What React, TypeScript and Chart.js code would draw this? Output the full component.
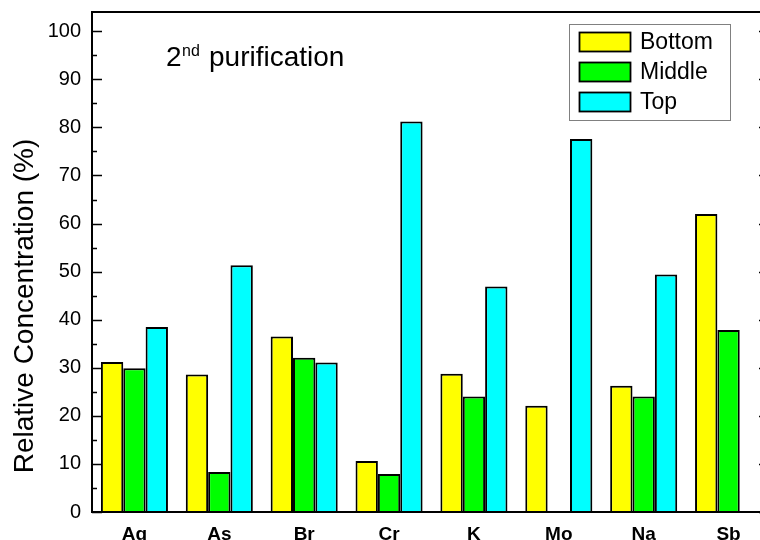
import React, { useEffect, useRef } from "react";
import { Chart, registerables } from "chart.js";

Chart.register(...registerables);

const categories = ["Ag", "As", "Br", "Cr", "K", "Mo", "Na", "Sb"];
const bottomValues = [31.2, 28.6, 36.5, 10.6, 28.75, 22.1, 26.25, 62.0];
const middleValues = [29.9, 8.3, 32.1, 7.9, 24.0, null, 24.0, 37.85];
const topValues = [38.5, 51.3, 31.1, 81.2, 46.9, 77.6, 49.4, null];
const yTicks = [0, 10, 20, 30, 40, 50, 60, 70, 80, 90, 100];
const yMinorTicks = [5, 15, 25, 35, 45, 55, 65, 75, 85, 95];
const seriesLabels = ["Bottom", "Middle", "Top"];
const seriesColors = ["#FFFF00", "#00FF00", "#00FFFF"];
const yTitle = "Relative Concentration (%)";

const FONT = "'Liberation Sans', Arial, sans-serif";

const decorPlugin = {
  id: "decor",
  afterDraw(chart: any) {
    const ctx = chart.ctx;
    const a = chart.chartArea;
    const y = chart.scales.y;
    ctx.save();
    // frame
    ctx.strokeStyle = "#000";
    ctx.lineWidth = 2;
    ctx.strokeRect(a.left, a.top, a.right - a.left, a.bottom - a.top);
    // ticks
    ctx.lineWidth = 1.5;
    ctx.beginPath();
    yTicks.forEach((v) => {
      const py = Math.round(y.getPixelForValue(v)) + 0.5;
      ctx.moveTo(a.left, py);
      ctx.lineTo(a.left + 10, py);
      ctx.moveTo(a.right, py);
      ctx.lineTo(a.right - 12, py);
    });
    yMinorTicks.forEach((v) => {
      const py = Math.round(y.getPixelForValue(v)) + 0.5;
      ctx.moveTo(a.left, py);
      ctx.lineTo(a.left + 5, py);
      ctx.moveTo(a.right, py);
      ctx.lineTo(a.right - 6, py);
    });
    ctx.stroke();

    // legend
    ctx.strokeStyle = "#808080";
    ctx.lineWidth = 1;
    ctx.strokeRect(569.5, 24.5, 161, 96);
    chart.data.datasets.forEach((ds: any, i: number) => {
      const top = 32 + i * 30;
      ctx.fillStyle = ds.backgroundColor;
      ctx.fillRect(579, top, 52, 20);
      ctx.strokeStyle = "#000";
      ctx.lineWidth = 1.8;
      ctx.strokeRect(579.5, top + 0.5, 51, 19);
      ctx.fillStyle = "#000";
      ctx.font = `23px ${FONT}`;
      ctx.textAlign = "left";
      ctx.textBaseline = "middle";
      ctx.fillText(ds.label, 640, top + 11);
    });

    // annotation title
    ctx.fillStyle = "#000";
    ctx.textAlign = "left";
    ctx.textBaseline = "alphabetic";
    ctx.font = `28px ${FONT}`;
    ctx.fillText("2", 166, 66);
    const w2 = ctx.measureText("2").width;
    ctx.font = `16px ${FONT}`;
    ctx.fillText("nd", 166 + w2 + 0.5, 56);
    ctx.font = `28px ${FONT}`;
    ctx.fillText("purification", 209, 66);

    // y title
    ctx.translate(33, 306);
    ctx.rotate(-Math.PI / 2);
    ctx.textAlign = "center";
    ctx.textBaseline = "alphabetic";
    ctx.font = `28px ${FONT}`;
    ctx.fillText(yTitle, 0, 0);
    ctx.restore();
  },
};

export default function App() {
  const ref = useRef<HTMLCanvasElement>(null);
  useEffect(() => {
    if (!ref.current) return;
    const data = [bottomValues, middleValues, topValues];
    const chart = new Chart(ref.current, {
      type: "bar",
      data: {
        labels: categories,
        datasets: seriesLabels.map((label, i) => ({
          label,
          data: data[i] as any,
          backgroundColor: seriesColors[i],
          borderColor: "#000",
          borderWidth: 2,
          borderSkipped: "bottom",
          categoryPercentage: 0.79,
          barPercentage: 1.0,
        })),
      },
      options: {
        responsive: false,
        animation: false,
        devicePixelRatio: 1,
        layout: { padding: { left: 0, right: 19, top: 12, bottom: 0 } },
        plugins: { legend: { display: false }, tooltip: { enabled: false } },
        scales: {
          x: {
            type: "category",
            offset: true,
            grid: { display: false },
            border: { display: false },
            ticks: {
              color: "#000",
              padding: 3,
              font: { family: FONT, size: 19, weight: "bold" },
              maxRotation: 0,
              autoSkip: false,
            },
            afterFit: (s: any) => {
              s.height = 48;
              s.paddingLeft = 0;
              s.paddingRight = 0;
              s.paddingTop = 0;
              s.paddingBottom = 0;
            },
          },
          y: {
            min: 0,
            max: 104,
            grid: { display: false, drawTicks: false },
            border: { display: false },
            ticks: {
              color: "#000",
              padding: 11,
              font: { family: FONT, size: 20 },
            },
            afterBuildTicks: (s: any) => {
              s.ticks = yTicks.map((v) => ({ value: v }));
            },
            afterFit: (s: any) => {
              s.width = 92;
              s.paddingTop = 0;
              s.paddingBottom = 0;
              s.paddingLeft = 0;
              s.paddingRight = 0;
            },
          },
        },
      },
      plugins: [decorPlugin],
    });
    return () => chart.destroy();
  }, []);
  return (
    <div
      style={{
        position: "fixed",
        left: 0,
        top: 0,
        width: 760,
        height: 540,
        overflow: "hidden",
        background: "#fff",
      }}
    >
      <canvas ref={ref} width={790} height={560} style={{ width: 790, height: 560, display: "block" }} />
    </div>
  );
}
